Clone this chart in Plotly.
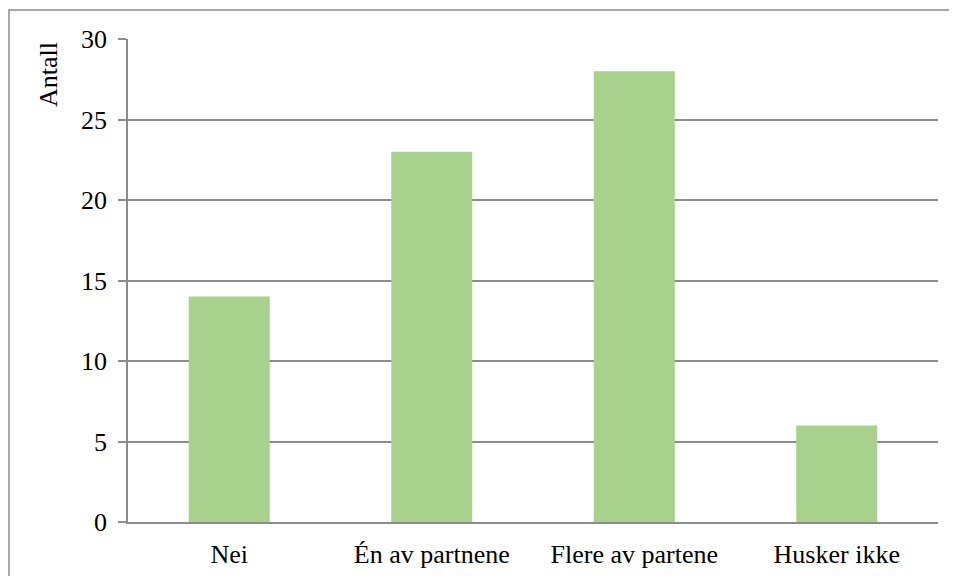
import plotly.graph_objects as go

categories = ["Nei", "Én av partnene", "Flere av partene", "Husker ikke"]
values = [14, 23, 28, 6]
y_ticks = [0, 5, 10, 15, 20, 25, 30]

GRAY = "#8C8C8C"
FONT = "Times New Roman, Liberation Serif, serif"
TF = dict(family=FONT, size=26, color="black")

fig = go.Figure(go.Bar(x=categories, y=values, marker=dict(color="#A9D18E", line=dict(width=0)), width=0.4))

# page has an 8px body offset; figure coords = screen coords - 8
OFF = 8
W, H = 957, 576
L, R, T, B = 128 - OFF, 27, 39 - OFF, 62
pw, ph = W - L - R, H - T - B

fig.update_layout(
    template="none",
    width=W, height=H,
    margin=dict(l=L, r=R, t=T, b=B, pad=0),
    paper_bgcolor="white", plot_bgcolor="white",
    font=TF,
    showlegend=False,
)
fig.update_yaxes(
    range=[0, 30], tickvals=y_ticks, showgrid=True, gridcolor=GRAY, gridwidth=1.5,
    showline=True, linecolor=GRAY, linewidth=1.5,
    ticks="outside", ticklen=8, tickcolor=GRAY, tickwidth=1.5,
    ticklabelstandoff=6, zeroline=False, tickfont=TF,
)
fig.update_xaxes(
    showline=True, linecolor=GRAY, linewidth=1.5, ticks="", ticklabelstandoff=8, tickfont=TF,
    showgrid=False,
)
# outer frame (screen x~8, y=10)
fig.add_shape(type="rect", xref="paper", yref="paper",
              x0=(1 - L) / pw, x1=(W + 20 - L) / pw,
              y0=-(H + 20 - T - ph) / ph, y1=1 + (T - (10 - OFF)) / ph,
              line=dict(color=GRAY, width=1.5), fillcolor="rgba(0,0,0,0)", layer="below")
fig.add_annotation(text="Antall", xref="paper", yref="paper",
                   x=(48 - OFF - L) / pw, y=1 - (75 - OFF - T) / ph, textangle=-90,
                   showarrow=False, font=TF, xanchor="center", yanchor="middle")

fig.write_html("out.html")
